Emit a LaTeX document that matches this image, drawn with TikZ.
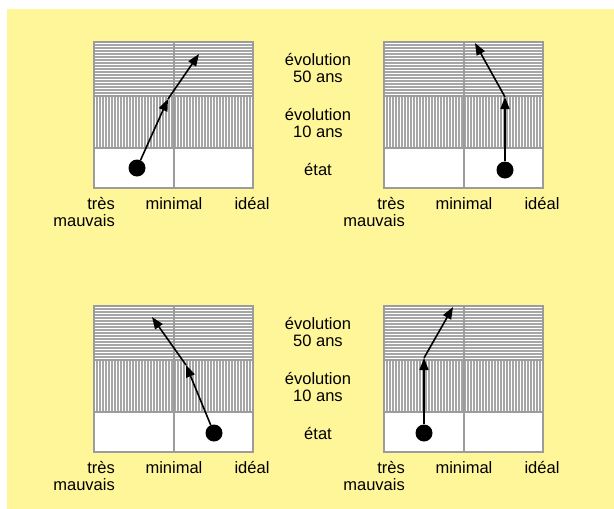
\documentclass[tikz,border=0pt]{standalone}
\usepackage{fontspec}
\setmainfont{Liberation Sans}
\usetikzlibrary{arrows.meta}
\definecolor{paper}{HTML}{FFF599}
\definecolor{rule}{HTML}{9C9C9C}
\definecolor{hatchgray}{HTML}{A6A6A6}
\tikzset{frame/.style={draw=rule,line width=2pt},hatch/.style={draw=hatchgray,line width=1.1pt},lbl/.style={inner sep=0pt,align=center,font=\fontsize{16.5}{17}\selectfont},dot/.style={circle,fill=black,inner sep=0pt,minimum size=17pt},evo/.style={-{Triangle[length=12pt,width=9pt]},line width=1.6pt}}
\begin{document}
\begin{tikzpicture}[x=1pt,y=-1pt]
\useasboundingbox (0,0) rectangle (614,509);
\fill[paper] (7,9) rectangle (614,509);
% the four grids with their scale below
\foreach \px/\py/\n in {94/42/a,384/42/b,94/306/c,384/306/d}{
  \fill[white] (\px,\py) rectangle ++(159,146);
  \foreach \k in {1,...,17} \draw[hatch] (\px,\py+3*\k) -- ++(159,0);
  \foreach \k in {1,...,52} \draw[hatch] (\px+3*\k,\py+54) -- ++(0,52);
  \draw[frame] (\px,\py) rectangle ++(159,146);
  \draw[frame] (\px,\py+54) -- ++(159,0) (\px,\py+106) -- ++(159,0) (\px+80,\py) -- ++(0,146);
  \node[lbl,anchor=base east,align=right] (tres\n) at (\px+21,\py+184) {très\\mauvais};
  \node[lbl,anchor=base] (mini\n) at (\px+80,\py+167) {minimal};
  \node[lbl,anchor=base] (ideal\n) at (\px+158,\py+167) {idéal};
}
% row labels between the grids
\foreach \py/\n in {42/u,306/l}{
  \node[lbl] (evcin\n) at (318,\py+26) {évolution\\50 ans};
  \node[lbl] (evdix\n) at (318,\py+81) {évolution\\10 ans};
  \node[lbl,anchor=base] (etat\n) at (318,\py+133) {état};
}
% evolutions
\node[dot] (da) at (137,168) {};
\coordinate (ma) at (168,99);
\coordinate (ta) at (199,54);
\node[dot] (db) at (505,170) {};
\coordinate (mb) at (505,97);
\coordinate (tb) at (475,43);
\node[dot] (dc) at (214,433) {};
\coordinate (mc) at (186,365);
\coordinate (tc) at (152,317);
\node[dot] (dd) at (424,433) {};
\coordinate (md) at (424,358);
\coordinate (td) at (453,307);
\draw[evo](da)--(ma);\draw[evo](ma)--(ta);
\draw[evo](db)--(mb);\draw[evo](mb)--(tb);
\draw[evo](dc)--(mc);\draw[evo](mc)--(tc);
\draw[evo](dd)--(md);\draw[evo](md)--(td);
\end{tikzpicture}
\end{document}
